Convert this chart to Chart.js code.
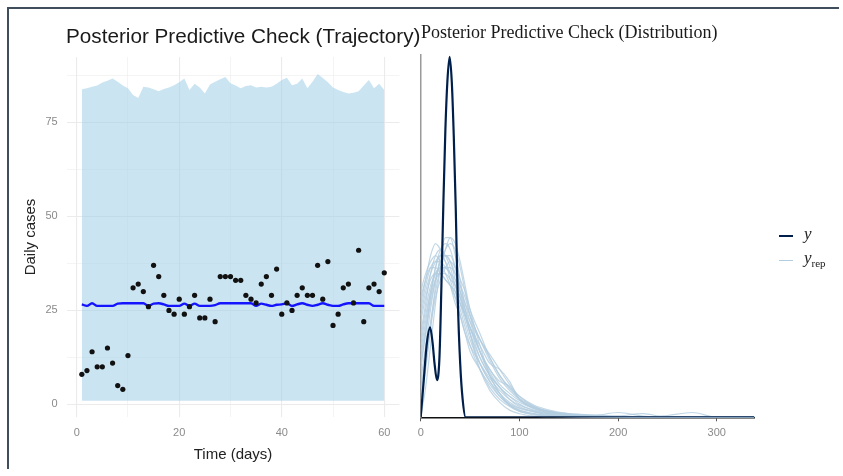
<!DOCTYPE html>
<html>
<head>
<meta charset="utf-8">
<script src="https://cdn.jsdelivr.net/npm/chart.js@4.4.1/dist/chart.umd.min.js"></script>
<style>
  body { margin: 0; background: #fff; }
  #wrap { position: relative; width: 843px; height: 476px; overflow: hidden; background: #fff; }
  canvas { position: absolute; left: 0; top: 0; }
  .title { position: absolute; white-space: nowrap; color: #1a1a1a; line-height: normal; }
  .frame { position: absolute; left: 7px; top: 7px; width: 830px; height: 460px;
           border-top: 2px solid #3f4d5c; border-left: 2px solid #3f4d5c; }
  .key { position: absolute; font-family: 'Liberation Serif', 'Times New Roman', serif; color: #222; }
  .key i { font-size: 17px; }
  .key sub { font-size: 11px; font-style: normal; vertical-align: -4px; }
  .swatch { position: absolute; width: 14px; }
</style>
</head>
<body>
<div id="wrap">
  <canvas id="traj" width="843" height="476"></canvas>
  <canvas id="dist" width="843" height="476"></canvas>
  <div class="title" style="left:66px;top:24px;font:20.7px 'Liberation Sans', Arial, sans-serif;">Posterior Predictive Check (Trajectory)</div>
  <div class="title" style="left:421px;top:22px;font:18px 'Liberation Serif', 'Times New Roman', serif;">Posterior Predictive Check (Distribution)</div>
  <div class="swatch" style="left:779px;top:235px;height:2px;background:#011f4b;"></div>
  <div class="key" style="left:804px;top:224px;"><i>y</i></div>
  <div class="swatch" style="left:779px;top:260px;height:1px;background:#b3cde0;"></div>
  <div class="key" style="left:804px;top:248px;"><i>y</i><sub>rep</sub></div>
  <div class="frame"></div>
</div>
<script>
// left panel: observed daily cases vs posterior mean and band
const days = [1, 2, 3, 4, 5, 6, 7, 8, 9, 10, 11, 12, 13, 14, 15, 16, 17, 18, 19, 20,
  21, 22, 23, 24, 25, 26, 27, 28, 29, 30, 31, 32, 33, 34, 35, 36, 37, 38, 39, 40,
  41, 42, 43, 44, 45, 46, 47, 48, 49, 50, 51, 52, 53, 54, 55, 56, 57, 58, 59, 60];
const observed = [8, 9, 14, 10, 10, 15, 11, 5, 4, 13, 31, 32, 30, 26, 37, 34, 29, 25, 24, 28,
  24, 26, 29, 23, 23, 28, 22, 34, 34, 34, 33, 33, 29, 28, 27, 32, 34, 29, 36, 24,
  27, 25, 29, 31, 29, 29, 37, 28, 38, 21, 24, 31, 32, 27, 41, 22, 31, 32, 30, 35];
const fitMean = [26.6, 26.2, 26.9, 26.2, 26.2, 26.2, 26.2, 26.8, 26.9, 26.9, 26.9, 26.9, 26.9, 26.2, 26.8, 26.9, 26.6, 26.2, 26.2, 26.2,
  26.8, 26.2, 26.8, 26.2, 26.2, 26.2, 26.4, 26.9, 26.9, 26.9, 26.9, 26.9, 26.9, 26.9, 26.2, 26.8, 26.5, 26.2, 26.5, 26.6,
  26.9, 26.2, 26.6, 26.9, 26.5, 26.2, 26.5, 26.9, 26.5, 26.2, 26.2, 26.6, 26.9, 26.9, 26.9, 26.9, 26.9, 26.2, 26.2, 26.2];
const bandUpper = [83.8, 84.1, 84.5, 84.8, 85.6, 86.1, 86.7, 85.8, 84.8, 84.1, 82.3, 81.5, 84.5, 84.3, 83.8, 83.3, 83.9, 84.3, 84.9, 85.7,
  86.7, 83.6, 85.3, 84.3, 82.7, 85.1, 85.8, 86.5, 87.1, 85.4, 84.8, 84.1, 84.7, 84.9, 84.3, 84.5, 84.3, 84.5, 85.3, 86.3,
  86.9, 84.9, 85.3, 86.7, 84.1, 85.8, 87.9, 86.8, 85.7, 84.3, 83.6, 83.1, 82.7, 82.9, 83.3, 84.8, 86.3, 84.1, 85.3, 83.6];
const bandLower = [1, 1, 1, 1, 1, 1, 1, 1, 1, 1, 1, 1, 1, 1, 1, 1, 1, 1, 1, 1,
  1, 1, 1, 1, 1, 1, 1, 1, 1, 1, 1, 1, 1, 1, 1, 1, 1, 1, 1, 1,
  1, 1, 1, 1, 1, 1, 1, 1, 1, 1, 1, 1, 1, 1, 1, 1, 1, 1, 1, 1];
const trajXGrid = [0, 10, 20, 30, 40, 50, 60];
const trajXLabels = [0, 20, 40, 60];
const trajYGrid = [0, 12.5, 25, 37.5, 50, 62.5, 75, 87.5];
const trajYLabels = [0, 25, 50, 75];

// right panel: densities (y axis is density x 1000, not labelled)
const obsX = [0, 3, 6, 9.5, 12, 14, 16.5, 19, 21, 23, 25, 27, 29.3, 31.5, 33.5, 35.5, 37.5, 40, 42.5, 45.5, 50, 100, 200, 300, 338];
const obsDensity = [0, 6, 12, 15, 12.5, 9, 6.2, 10, 22, 36, 48, 56, 60.2, 56, 47, 35, 20, 9, 3, 0, 0, 0, 0, 0, 0];
const repX = [0, 5, 10, 15, 20, 25, 30, 35, 40, 45, 50, 60, 70, 80, 90, 100, 115, 130, 150, 175, 200, 225, 250, 275, 300, 338];
const rep1 = [14, 19, 24, 27, 28, 27, 25, 22, 19, 16, 13, 9, 6, 4, 2.5, 1.6, 1, 0.6, 0.3, 0.1, 0, 0, 0, 0, 0, 0];
const rep2 = [8, 14, 20, 25, 28, 29, 28, 25, 21, 17, 14, 9, 6, 3.5, 2, 1.2, 0.6, 0.3, 0.1, 0, 0, 0, 0, 0, 0, 0];
const rep3 = [18, 22, 25, 26, 26, 25, 24, 22, 20, 17, 15, 11, 8, 5.5, 4, 2.8, 1.6, 0.9, 0.5, 0.3, 0.8, 0.2, 0, 0, 0, 0];
const rep4 = [5, 10, 16, 21, 25, 28, 30, 29, 26, 22, 18, 12, 7, 4, 2, 1, 0.4, 0.2, 0, 0, 0, 0, 0, 0, 0, 0];
const rep5 = [12, 17, 21, 24, 25, 25, 24, 23, 21, 19, 17, 13, 10, 7, 5, 3.5, 2, 1.2, 0.6, 0.3, 0.1, 0, 0.1, 0, 0, 0];
const rep6 = [20, 23, 25, 25, 24, 23, 22, 20, 19, 17, 15, 12, 9, 8, 6, 3, 1.5, 0.8, 0.4, 0.2, 0.1, 0, 0, 0, 0, 0];
const rep7 = [3, 8, 15, 22, 27, 30, 30, 27, 23, 18, 14, 8, 4.5, 2.5, 1.2, 0.6, 0.2, 0, 0, 0, 0, 0, 0, 0, 0, 0];
const rep8 = [10, 15, 20, 23, 24, 24, 23, 22, 20, 18, 16, 13, 10.5, 8, 5.5, 3.5, 1.8, 1, 0.6, 0.4, 0.2, 0, 0, 0, 0, 0];
const rep9 = [16, 20, 23, 24, 24, 23, 22, 21, 19, 17, 15, 11, 8, 6, 5.2, 3, 1.5, 0.8, 0.4, 0.1, 0, 0, 0.3, 0.8, 0, 0];
const rep10 = [6, 12, 18, 23, 26, 27, 26, 24, 21, 18, 15, 10, 7, 5, 3, 1.8, 0.9, 0.4, 0.2, 0, 0.2, 0.6, 0, 0, 0, 0];
const rep11 = [0, 5, 12, 19, 25, 28, 29, 28, 25, 21, 17, 11, 7, 4, 2.2, 1.2, 0.6, 0.3, 0.1, 0, 0, 0, 0, 0, 0, 0];
const rep12 = [13, 18, 22, 24, 25, 25, 25, 24, 22, 20, 17, 13, 9.5, 6.5, 4.5, 3, 1.7, 1, 0.5, 0.2, 0, 0, 0, 0, 0, 0];
const rep13 = [21, 24, 26, 27, 26, 24, 22, 19, 17, 14, 12, 9, 6.5, 4.5, 3, 2, 1.2, 0.7, 0.4, 0.2, 0.1, 0, 0, 0, 0, 0];
const rep14 = [9, 14, 19, 23, 26, 27, 27, 25, 22, 19, 16, 11, 7.5, 5, 3.5, 2.5, 1.4, 0.8, 0.4, 0.2, 0.1, 0, 0, 0, 0, 0];
const rep15 = [17, 21, 24, 26, 27, 26, 24, 21, 18, 15, 12, 8, 5.5, 3.5, 2.2, 1.5, 0.9, 0.5, 0.3, 0.1, 0, 0, 0, 0, 0, 0];
const rep16 = [11, 16, 21, 25, 27, 27, 26, 23, 20, 17, 14, 10, 7, 5, 3.5, 2.2, 1.1, 0.6, 0.3, 0.1, 0, 0, 0, 0, 0, 0];
const rep17 = [4, 9, 15, 20, 23, 25, 26, 25, 23, 21, 18, 14, 10, 7, 4.8, 3.2, 1.8, 1, 0.5, 0.2, 0.1, 0, 0, 0, 0, 0];
const rep18 = [19, 23, 27, 29, 28, 26, 23, 20, 17, 14, 11, 8, 5, 3, 1.8, 1, 0.5, 0.2, 0.1, 0, 0, 0, 0, 0, 0, 0];
const distXTicks = [0, 100, 200, 300];

const sans = "'Liberation Sans', Arial, sans-serif";
const pts = (xs, ys) => xs.map((x, i) => ({ x: x, y: ys[i] }));
const fixTicks = list => scale => { scale.ticks = list.map(v => ({ value: v })); };

new Chart(document.getElementById('traj'), {
  type: 'line',
  data: {
    datasets: [
      { type: 'scatter', data: pts(days, observed), pointRadius: 2.6, pointBackgroundColor: '#111',
        pointBorderWidth: 0, showLine: false },
      { data: pts(days, fitMean), borderColor: '#1414ff', borderWidth: 2.4, pointRadius: 0,
        cubicInterpolationMode: 'monotone', fill: false },
      { data: pts(days, bandUpper), borderWidth: 0, pointRadius: 0,
        backgroundColor: 'rgba(160,205,232,0.55)', fill: '+1' },
      { data: pts(days, bandLower), borderWidth: 0, pointRadius: 0, fill: false }
    ]
  },
  options: {
    responsive: false,
    animation: false,
    devicePixelRatio: 1,
    layout: { padding: { left: 0, top: 57, right: 843 - 399.4, bottom: 0 } },
    plugins: { legend: { display: false }, tooltip: { enabled: false } },
    scales: {
      x: {
        type: 'linear', min: -1.95, max: 62.95,
        afterBuildTicks: fixTicks(trajXGrid),
        afterFit: s => { s.height = 476 - 417; },
        border: { display: false },
        grid: { color: '#ebebeb', drawTicks: false,
          lineWidth: c => (c.tick && trajXLabels.includes(c.tick.value)) ? 1.1 : 0.55 },
        ticks: { autoSkip: false, maxRotation: 0, padding: 9, color: '#8a8a8a',
          font: { family: sans, size: 11 },
          callback: v => trajXLabels.includes(v) ? String(v) : '' },
        title: { display: true, text: 'Time (days)', color: '#222',
          font: { family: sans, size: 15 }, padding: { top: 0, bottom: 12 } }
      },
      y: {
        type: 'linear', min: -3.35, max: 92.4,
        afterBuildTicks: fixTicks(trajYGrid),
        afterFit: s => { s.width = 66.7; },
        border: { display: false },
        grid: { color: '#ebebeb', drawTicks: false,
          lineWidth: c => (c.tick && trajYLabels.includes(c.tick.value)) ? 1.1 : 0.55 },
        ticks: { autoSkip: false, padding: 9, color: '#8a8a8a',
          font: { family: sans, size: 11 },
          callback: v => trajYLabels.includes(v) ? String(v) : '' },
        title: { display: true, text: 'Daily cases', color: '#222',
          font: { family: sans, size: 15 }, padding: { top: 22, bottom: 0 } }
      }
    }
  }
});

const reps = [rep1, rep2, rep3, rep4, rep5, rep6, rep7, rep8, rep9,
  rep10, rep11, rep12, rep13, rep14, rep15, rep16, rep17, rep18];

new Chart(document.getElementById('dist'), {
  type: 'line',
  data: {
    datasets: [
      { data: pts(obsX, obsDensity), borderColor: '#011f4b', borderWidth: 2.2, pointRadius: 0,
        cubicInterpolationMode: 'monotone', fill: false }
    ].concat(reps.map(r => ({
      data: pts(repX, r), borderColor: 'rgba(179,205,224,0.8)', borderWidth: 1.2,
      pointRadius: 0, cubicInterpolationMode: 'monotone', fill: false
    })))
  },
  options: {
    responsive: false,
    animation: false,
    devicePixelRatio: 1,
    layout: { padding: { left: 420.7, top: 55, right: 843 - 754.3, bottom: 0 } },
    plugins: { legend: { display: false }, tooltip: { enabled: false } },
    scales: {
      x: {
        type: 'linear', min: 0, max: 338,
        afterBuildTicks: fixTicks(distXTicks),
        afterFit: s => { s.height = 476 - 417.3; },
        border: { color: '#111', width: 1.5 },
        grid: { drawOnChartArea: false, drawTicks: true, tickLength: 4, color: '#555' },
        ticks: { autoSkip: false, maxRotation: 0, padding: 5, color: '#8a8a8a',
          font: { family: sans, size: 11 } }
      },
      y: {
        type: 'linear', min: 0, max: 60.5,
        afterFit: s => { s.width = 0; },
        border: { color: '#9a9a9a', width: 1.5 },
        grid: { display: false },
        ticks: { display: false }
      }
    }
  }
});
</script>
</body>
</html>
